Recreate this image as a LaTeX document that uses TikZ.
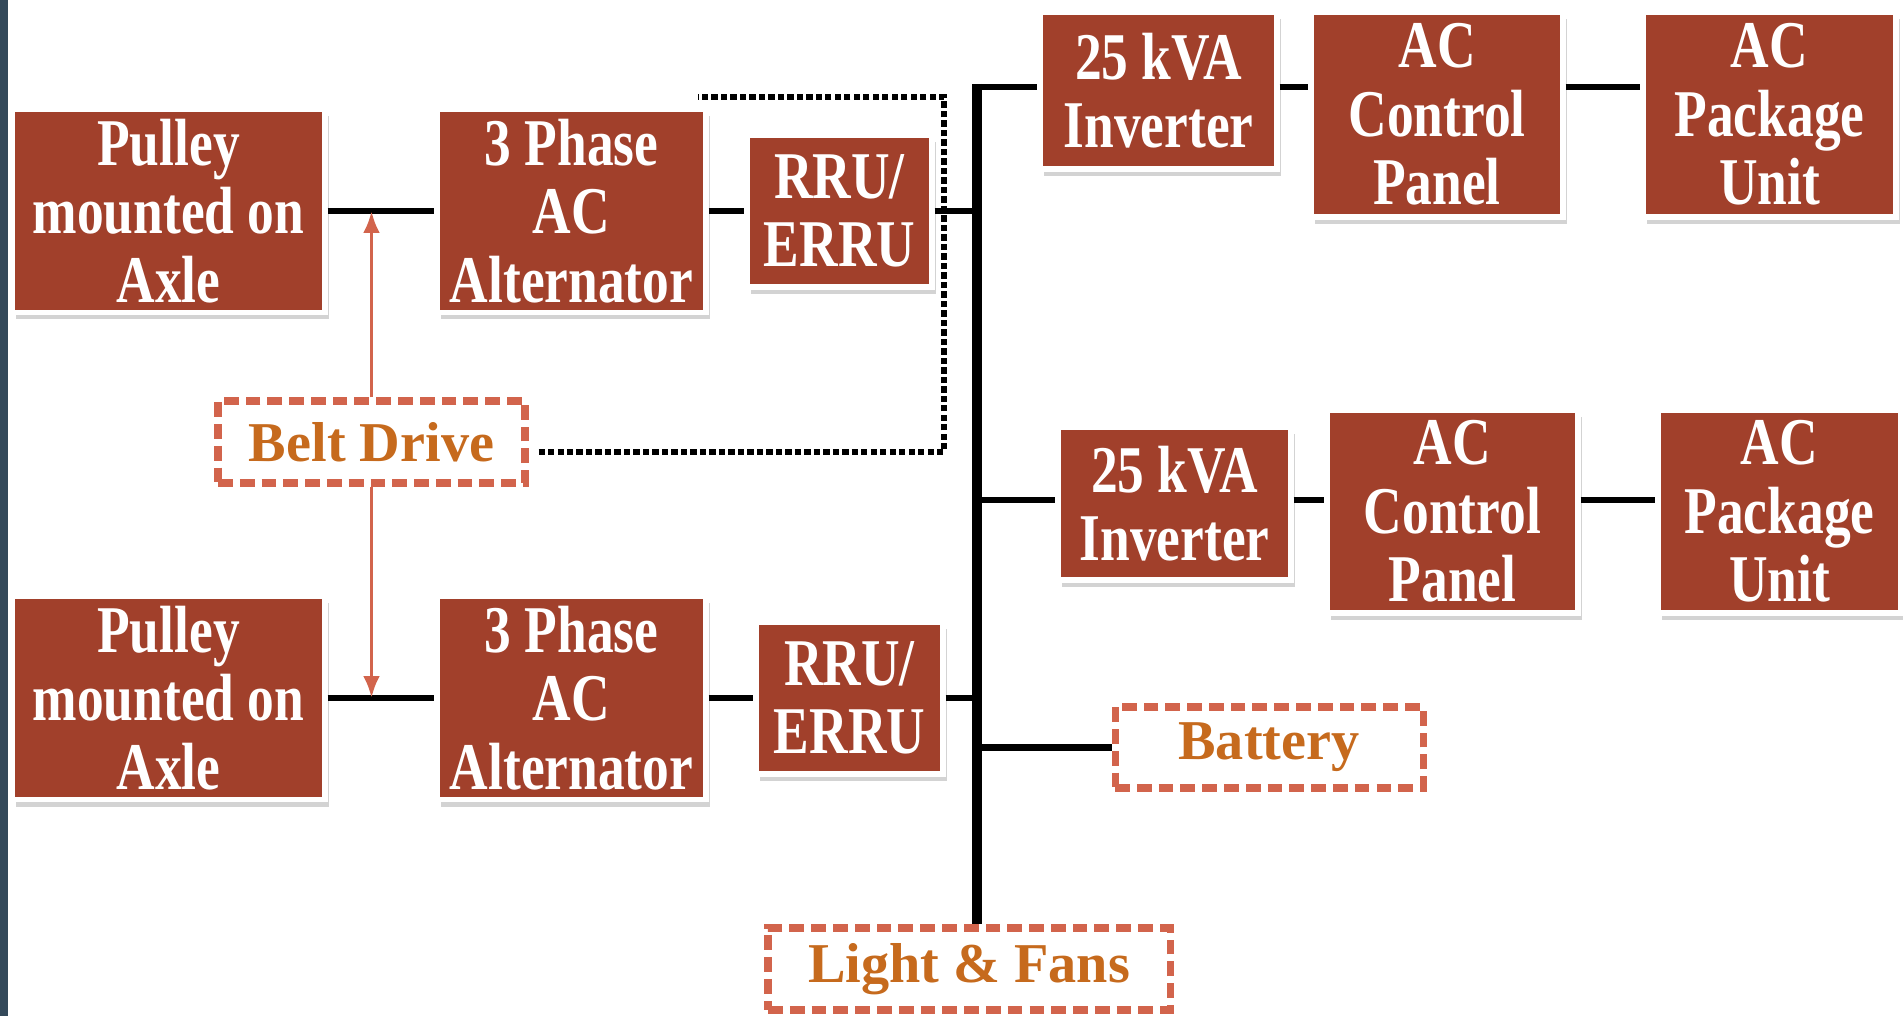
\documentclass[tikz,border=0pt]{standalone}
\usepackage{fontspec}
\setmainfont{Liberation Serif}
\newfontfamily\boxfont[FakeStretch=0.8]{Liberation Serif}
\usetikzlibrary{arrows.meta,calc,positioning,shadows}
\definecolor{Brick}{HTML}{A1402B}
\definecolor{Coral}{HTML}{D2644C}
\definecolor{Amber}{HTML}{C66A1D}
\definecolor{Slate}{HTML}{34495A}

\begin{document}
\begin{tikzpicture}[x=1cm,y=1cm,
    unit/.style={fill=Brick,draw=white,line width=1.5pt,text=white,align=center,inner sep=0pt,
      font=\boxfont\bfseries\fontsize{19}{19.5}\selectfont,
      drop shadow={opacity=0.35,shadow xshift=0.4mm,shadow yshift=-0.7mm}},
    tag/.style={draw=Coral,line width=2pt,dash pattern=on 4.2pt off 2pt,text=Amber,
      font=\bfseries\fontsize{16}{18}\selectfont,inner sep=0pt},
    wire/.style={black,line width=1.8pt},
    busline/.style={black,line width=2.6pt},
    ctrl/.style={black,line width=1.6pt,dash pattern=on 1.8pt off 0.9pt},
    beltarrow/.style={Coral,line width=1.1pt,-{Latex[length=2.2mm,width=1.7mm]}}]
  \useasboundingbox (0,0) rectangle (19.03,10.16);
  \fill[Slate] (0,0) rectangle (0.08,10.16);
  % blocks
  \foreach \nm/\x/\y/\w/\h/\lab in {
      pulA/1.685/8.05/3.13/2.03/{Pulley\\mounted on\\Axle},
      altA/5.715/8.05/2.69/2.03/{3 Phase\\AC\\Alternator},
      rruA/8.395/8.05/1.85/1.52/{RRU/\\ERRU},
      pulB/1.685/3.18/3.13/2.03/{Pulley\\mounted on\\Axle},
      altB/5.715/3.18/2.69/2.03/{3 Phase\\AC\\Alternator},
      rruB/8.495/3.18/1.87/1.52/{RRU/\\ERRU},
      invA/11.585/9.255/2.37/1.57/{25 kVA\\Inverter},
      panA/14.37/9.015/2.52/2.05/{AC\\Control\\Panel},
      pkgA/17.695/9.015/2.53/2.05/{AC\\Package\\Unit},
      invB/11.745/5.125/2.33/1.53/{25 kVA\\Inverter},
      panB/14.525/5.045/2.51/2.03/{AC\\Control\\Panel},
      pkgB/17.795/5.045/2.43/2.03/{AC\\Package\\Unit}}{
    \node[unit,minimum width=\w cm,minimum height=\h cm] (\nm) at (\x,\y) {\lab};
  }
  \node[tag,minimum width=3.07cm,minimum height=0.82cm] (belt) at (3.715,5.74) {Belt Drive};
  \node[tag,minimum width=3.08cm,minimum height=0.81cm] (batt) at (12.69,2.685) {Battery};
  \node[tag,minimum width=4.02cm,minimum height=0.82cm] (lights) at (9.69,0.47) {Light \& Fans};
  % bus
  \coordinate (bustop) at (9.77,9.29);
  \coordinate (busrow) at (9.77,5.16);
  \coordinate (loopc) at (9.44,9.19);
  \draw[busline] ([yshift=0.9pt]bustop) -- (bustop |- lights.north);
  \draw[wire] ([xshift=-1.3pt]bustop) -- (bustop -| invA.west);
  \draw[wire] (bustop -| invA.east) -- (bustop -| panA.west);
  \draw[wire] (bustop -| panA.east) -- (bustop -| pkgA.west);
  \draw[wire] (busrow) -- (busrow -| invB.west);
  \draw[wire] (busrow -| invB.east) -- (busrow -| panB.west);
  \draw[wire] (busrow -| panB.east) -- (busrow -| pkgB.west);
  \draw[wire] (batt.west -| bustop) -- (batt.west);
  % generator rows
  \draw[wire] (pulA) -- (altA);
  \draw[wire] (altA) -- (rruA);
  \draw[wire] (rruA.east) -- (rruA.east -| bustop);
  \draw[wire] (pulB) -- (altB);
  \draw[wire] (altB) -- (rruB);
  \draw[wire] (rruB.east) -- (rruB.east -| bustop);
  % belt
  \draw[beltarrow] (belt.north) -- (belt.north |- pulA.east);
  \draw[beltarrow] (belt.south) -- (belt.south |- pulB.east);
  \draw[ctrl] ([xshift=1mm,yshift=-1mm]belt.east) -| (loopc) -- ++(-2.46,0);
\end{tikzpicture}
\end{document}
